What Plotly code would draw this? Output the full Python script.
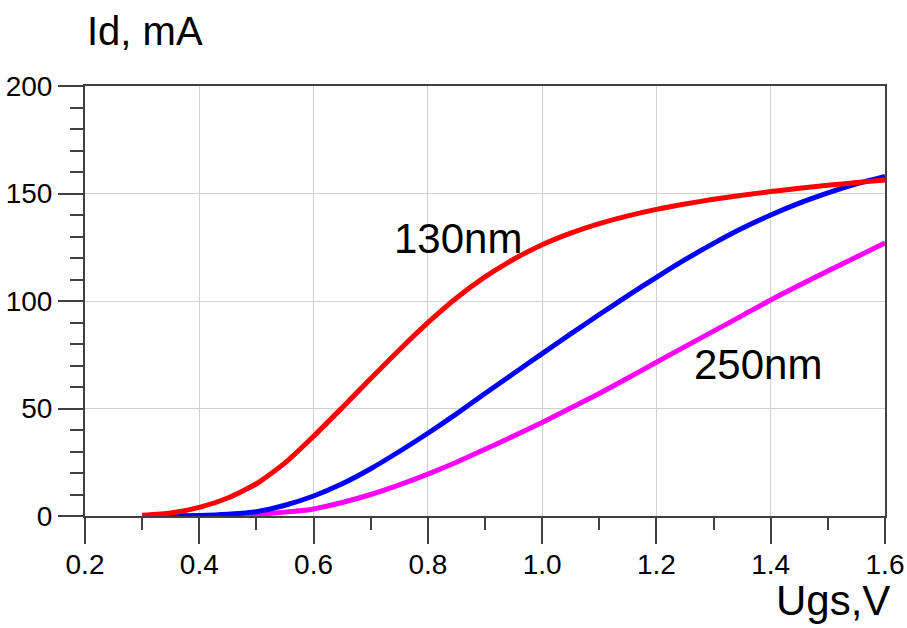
import plotly.graph_objects as go

# Drain current Id (mA) vs gate-source voltage Ugs (V) for three gate lengths
ugs = [0.30, 0.35, 0.40, 0.45, 0.50, 0.55, 0.60, 0.65, 0.70, 0.75, 0.80, 0.85, 0.90,
       0.95, 1.00, 1.05, 1.10, 1.15, 1.20, 1.25, 1.30, 1.35, 1.40, 1.45, 1.50, 1.55, 1.60]

id_130 = [0.3, 1.4, 4.0, 8.4, 15.0, 24.7, 37.1, 50.4, 63.9, 77.2, 89.9, 101.4, 111.2,
          119.4, 126.2, 131.6, 136.0, 139.6, 142.6, 145.1, 147.3, 149.2, 150.9, 152.4,
          153.8, 155.1, 156.3]

id_mid = [0, 0, 0.2, 0.8, 2, 5, 9.3, 15, 22, 30, 38.5, 47.5, 57,
          66.3, 75.5, 84.7, 93.7, 102.5, 111, 119.2, 126.8, 133.8, 140, 145.5,
          150.3, 154.5, 158]

id_250 = [0, 0, 0, 0.2, 0.8, 1.8, 3.3, 6.3, 10, 14.5, 19.5, 25, 31,
          37.2, 43.5, 50.2, 57, 64.2, 71.5, 78.8, 86, 93.2, 100.5, 107.3,
          114, 120.5, 127]

x_ticks = [0.2, 0.4, 0.6, 0.8, 1.0, 1.2, 1.4, 1.6]
x_tick_text = ["0.2", "0.4", "0.6", "0.8", "1.0", "1.2", "1.4", "1.6"]
y_ticks = [0, 50, 100, 150, 200]

FONT = "Liberation Sans, Arial, sans-serif"
AXIS_COLOR = "#404040"

fig = go.Figure()
for ys, col in [(id_250, "#ff00ff"), (id_mid, "#0000ff"), (id_130, "#ff0000")]:
    fig.add_trace(go.Scatter(x=ugs, y=ys, mode="lines",
                             line=dict(color=col, width=5, shape="spline", smoothing=0.6),
                             showlegend=False, hoverinfo="skip"))

fig.add_annotation(x=0.853, y=129.3, text="130nm", showarrow=False,
                   font=dict(size=42, color="black", family=FONT))
fig.add_annotation(x=1.378, y=70.3, text="250nm", showarrow=False,
                   font=dict(size=42, color="black", family=FONT))
fig.add_annotation(xref="paper", yref="paper", x=0.0, y=1.128, text="Id, mA",
                   xanchor="left", yanchor="middle", showarrow=False,
                   font=dict(size=40, color="black", family=FONT))
fig.add_annotation(xref="paper", yref="paper", x=1.009, y=-0.197, text="Ugs,V",
                   xanchor="right", yanchor="middle", showarrow=False,
                   font=dict(size=42, color="black", family=FONT))

axis_common = dict(showline=True, linecolor=AXIS_COLOR, linewidth=2, mirror=True,
                   showgrid=True, gridcolor="#d0d0d0", gridwidth=1, zeroline=False,
                   ticks="outside", tickcolor=AXIS_COLOR, tickwidth=2, automargin=False,
                   tickfont=dict(size=28, color="black", family=FONT))

fig.update_xaxes(range=[0.2, 1.6], tickvals=x_ticks, ticktext=x_tick_text, ticklen=26,
                 ticklabelstandoff=-4,
                 minor=dict(dtick=0.1, tick0=0.2, ticklen=12, ticks="outside",
                            tickcolor=AXIS_COLOR, tickwidth=2, showgrid=False),
                 **axis_common)
fig.update_yaxes(range=[0, 200], tickvals=y_ticks, ticklen=25,
                 minor=dict(dtick=10, tick0=0, ticklen=13, ticks="outside",
                            tickcolor=AXIS_COLOR, tickwidth=2, showgrid=False),
                 **axis_common)

fig.update_layout(width=907, height=628, margin=dict(l=85, r=22, t=86, b=112),
                  plot_bgcolor="white", paper_bgcolor="white")

fig.write_html("out.html")
